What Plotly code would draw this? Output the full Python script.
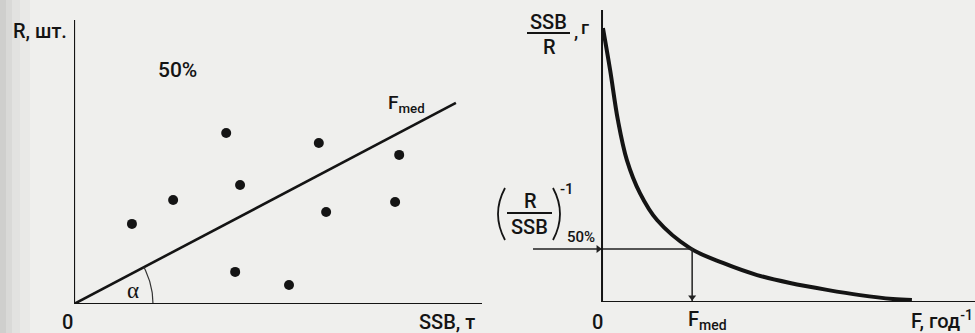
import numpy as np
import plotly.graph_objects as go

W, H = 975, 333

# ---- data: left panel (stock-recruitment scatter) ----
ssb_t = [14.2, 24.3, 37.3, 39.5, 40.7, 52.7, 60.0, 61.8, 78.7, 79.7]
recruits = [28.2, 36.6, 60.2, 11.3, 41.9, 6.7, 56.7, 32.4, 35.9, 52.5]
fmed_ssb = [0.0, 93.6]
fmed_r = [0.0, 70.8]

# ---- data: right panel (SSB/R vs F) ----
f_vals = [0.003, 0.026, 0.051, 0.080, 0.122, 0.177, 0.283, 0.389,
          0.499, 0.605, 0.724, 0.830, 0.936, 0.997]
spr_vals = [9.96, 8.44, 6.62, 5.16, 3.96, 2.98, 1.96, 1.42,
            0.98, 0.69, 0.44, 0.25, 0.11, 0.07]
f_med = 0.29
spr_50 = 1.93
guide_start = -0.222

def px(x):
    return x / W

def py(y):
    return 1 - y / H

INK = "#141414"
FONT = "Roboto, Liberation Sans, Arial, sans-serif"
WEIGHT = 500

fig = go.Figure()

# left panel traces
fig.add_trace(go.Scatter(x=fmed_ssb, y=fmed_r, mode="lines",
                         line=dict(color=INK, width=2.6),
                         xaxis="x", yaxis="y", hoverinfo="skip"))
fig.add_trace(go.Scatter(x=ssb_t, y=recruits, mode="markers",
                         marker=dict(color=INK, size=10),
                         xaxis="x", yaxis="y"))
# angle arc (pixel-constant radius)
sx, sy = 408 / 100, 284 / 100  # px per unit
ang = np.arctan(fmed_r[1] / fmed_ssb[1] * sy / sx)
t = np.linspace(0, ang, 30)
rad = 79
fig.add_trace(go.Scatter(x=rad * np.cos(t) / sx, y=rad * np.sin(t) / sy,
                         mode="lines", line=dict(color="#333", width=1.2),
                         xaxis="x", yaxis="y", hoverinfo="skip"))

# right panel traces
fig.add_trace(go.Scatter(x=f_vals, y=spr_vals, mode="lines",
                         line=dict(color=INK, width=4, shape="spline", smoothing=1.0),
                         xaxis="x2", yaxis="y2"))
fig.add_trace(go.Scatter(x=[guide_start, f_med, f_med], y=[spr_50, spr_50, 0],
                         mode="lines", line=dict(color="#222", width=1.5),
                         xaxis="x2", yaxis="y2", hoverinfo="skip"))
# arrowheads on the guide lines
fig.add_trace(go.Scatter(x=[-0.012, f_med], y=[spr_50, 0.17], mode="markers",
                         marker=dict(symbol=["triangle-right", "triangle-down"],
                                     size=7, color="#222"),
                         xaxis="x2", yaxis="y2", hoverinfo="skip"))

shapes = []
# axis lines
shapes.append(dict(type="line", xref="x", yref="y", x0=0, y0=0, x1=0, y1=100.7,
                   line=dict(color=INK, width=2.2)))
shapes.append(dict(type="line", xref="x", yref="y", x0=0, y0=0, x1=100, y1=0,
                   line=dict(color=INK, width=2.2)))
shapes.append(dict(type="line", xref="x2", yref="y2", x0=0, y0=0, x1=0, y1=10.62,
                   line=dict(color=INK, width=2.0)))
shapes.append(dict(type="line", xref="x2", yref="y2", x0=0, y0=0, x1=1.2, y1=0,
                   line=dict(color=INK, width=2.0)))
# fraction bars
shapes.append(dict(type="line", xref="paper", yref="paper", x0=px(527), y0=py(33),
                   x1=px(570), y1=py(33), line=dict(color=INK, width=2)))
shapes.append(dict(type="line", xref="paper", yref="paper", x0=px(507), y0=py(213),
                   x1=px(552), y1=py(213), line=dict(color=INK, width=2)))
# parentheses
def paren(xt, xc):
    return (f"M {px(xt)},{py(188)} Q {px(xc)},{py(214)} {px(xt)},{py(240)}")
shapes.append(dict(type="path", xref="paper", yref="paper", path=paren(505, 491),
                   line=dict(color=INK, width=1.8)))
shapes.append(dict(type="path", xref="paper", yref="paper", path=paren(553, 567),
                   line=dict(color=INK, width=1.8)))

# scanned-page left shading
bg_strips = [(0, 6, "#cfcfcd"), (6, 12, "#d9d9d7"), (12, 20, "#e2e2e0"), (20, 30, "#e9e9e7")]
for x0, x1, c in bg_strips:
    shapes.append(dict(type="rect", xref="paper", yref="paper", x0=px(x0), x1=px(x1),
                       y0=0, y1=1, fillcolor=c, line=dict(width=0), layer="below"))

def txt(text, x, y, size=19, xanchor="center", yanchor="middle", family=FONT):
    return dict(text=text, x=px(x), y=py(y), xref="paper", yref="paper",
                showarrow=False, xanchor=xanchor, yanchor=yanchor,
                font=dict(family=family, size=size, color=INK, weight=WEIGHT))

ann = [
    txt("R, шт.", 40, 31, size=20),
    txt("50%", 177, 70, size=21),
    txt("F<sub>med</sub>", 386, 103, xanchor="left"),
    txt("α", 133, 290, size=23, family="Liberation Serif, serif"),
    txt("0", 67, 322, size=20),
    txt("SSB, т", 417, 322, xanchor="left", size=20),
    txt("SSB", 548, 22, size=20),
    txt("R", 549, 47, size=20),
    txt(",", 572, 31, xanchor="left"),
    txt("г", 579, 27, xanchor="left"),
    txt("R", 530, 201, size=20),
    txt("SSB", 529, 227, size=20),
    txt("-1", 567, 189, size=15),
    txt("50%", 581, 237, size=15),
    txt("0", 597, 322, size=20),
    txt("F<sub>med</sub>", 686, 320, xanchor="left", size=20),
    txt("F, год<sup>-1</sup>", 975, 320, xanchor="right", size=20),
]

fig.update_layout(
    width=W, height=H, margin=dict(l=0, r=0, t=0, b=0),
    paper_bgcolor="#efefed", plot_bgcolor="rgba(0,0,0,0)",
    showlegend=False,
    xaxis=dict(domain=[px(74), px(482)], range=[0, 100], visible=False),
    yaxis=dict(domain=[py(304), py(20)], range=[0, 100], visible=False),
    xaxis2=dict(domain=[px(524), 1.0], range=[-0.251, 1.2], visible=False),
    yaxis2=dict(domain=[py(302), py(10)], range=[0, 10.62], visible=False, anchor="x2"),
    shapes=shapes, annotations=ann,
)
fig.update_traces(cliponaxis=False)

fig.write_html("out.html")
